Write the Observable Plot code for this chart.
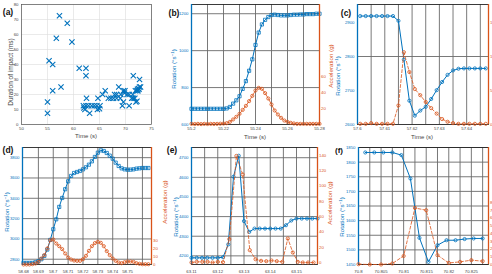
<!DOCTYPE html>
<html>
<head>
<meta charset="utf-8">
<script src="https://cdn.jsdelivr.net/npm/d3@7"></script>
<script src="https://cdn.jsdelivr.net/npm/@observablehq/plot@0.6"></script>
<style>
  body { margin: 0; background: #fff; }
  #fig { position: relative; width: 492px; height: 274px; overflow: hidden; background: #fff;
         font-family: "Liberation Sans", Arial, sans-serif; }
  #fig svg { position: absolute; }
  .t { position: absolute; white-space: nowrap; line-height: 1; }
  .rot { transform: translate(-50%, -50%) rotate(-90deg); }
  .h { transform: translate(-50%, -50%); }
  sup { font-size: 70%; vertical-align: 0.45em; line-height: 0; }
</style>
</head>
<body>
<div id="fig"></div>
<script>
// ---- (a) impact duration over the session ----
const aTime = [55.0, 55.0, 55.3, 56.0, 56.0, 56.7, 57.3, 57.6, 58.8, 59.7, 61.1, 62.4, 62.4, 62.5,
  61.9, 62.4, 62.9, 63.5, 64.0, 64.5, 65.1, 62.2, 64.6, 63.1, 64.7, 65.6, 66.1, 66.7, 67.2, 67.7,
  67.9, 68.3, 68.7, 68.3, 69.6, 69.9, 69.1, 70.3, 70.7, 69.0, 71.2, 69.6, 72.0, 69.4, 70.7, 71.5,
  72.7, 71.5, 71.8, 71.4, 72.2, 71.9, 72.2, 72.4, 72.3, 72.6, 72.7, 72.9, 62.0, 65.0, 69.8, 72.5];
const aDuration = [7.5, 15, 42.5, 40, 22.5, 57.5, 72.5, 25, 67.5, 55, 37.5, 37.5, 32.5, 17.5,
  12.5, 12.5, 12.5, 12.5, 12.5, 12.5, 12.5, 10, 10, 7.5, 17.5, 20, 22.5, 17.5, 17.5, 17.5,
  20, 20, 25, 17.5, 22.5, 22.5, 20, 20, 20, 17.5, 17.5, 15, 15, 12.5, 12.5, 32.5,
  30, 17.5, 17.5, 20, 15.5, 22.5, 22.5, 22.5, 23.5, 23.5, 25, 25, 11, 10.5, 21, 24];
const aXTicks = [50, 55, 60, 65, 70, 75];
const aYTicks = [0, 10, 20, 30, 40, 50, 60, 70, 80];

// ---- (b) ----
const bTime = [55.2, 55.202, 55.204, 55.206, 55.208, 55.21, 55.212, 55.214, 55.216, 55.218, 55.22,
  55.222, 55.224, 55.226, 55.228, 55.23, 55.232, 55.234, 55.236, 55.238, 55.24, 55.242, 55.244,
  55.246, 55.248, 55.25, 55.252, 55.254, 55.256, 55.258, 55.26, 55.262, 55.264, 55.266, 55.268,
  55.27, 55.272, 55.274, 55.276, 55.278, 55.28];
const bRotation = [685, 685, 685, 685, 685, 685, 685, 685, 685, 685, 685,
  687, 695, 713, 731, 753, 793, 835, 891, 953, 1031,
  1098, 1142, 1167, 1182, 1193, 1195, 1193, 1191, 1191, 1191,
  1193, 1195, 1195, 1196, 1196, 1198, 1198, 1198, 1200, 1200];
const bAccel = [0.8, 0.6, 0.8, 0.5, 0.8, 0.6, 0.8, 0.7, 0.8, 1.0, 1.2,
  1.7, 3.3, 6.3, 9.6, 13.3, 18.3, 23.3, 29.2, 35.8, 42.5,
  45.8, 44.6, 39.2, 32.5, 25, 17.5, 12.5, 8.3, 5, 3.3,
  2.1, 1.3, 0.8, 0.8, 0.8, 0.8, 0.8, 0.8, 0.8, 0.8];
const bXTicks = [55.2, 55.22, 55.24, 55.26, 55.28];
const bXGrid = [55.21, 55.22, 55.23, 55.24, 55.25, 55.26, 55.27];
const bYTicks = [600, 800, 1000, 1200];
const bYGrid = [800, 1000, 1200];
const bAccTicks = [20, 40, 60];

// ---- (c) ----
const cTime = [57.601, 57.603, 57.605, 57.607, 57.609, 57.611, 57.613, 57.615, 57.617, 57.619,
  57.621, 57.623, 57.625, 57.627, 57.629, 57.631, 57.633, 57.635, 57.637, 57.639, 57.641,
  57.643, 57.645, 57.647];
const cRotation = [2919, 2919, 2919, 2919, 2919, 2919, 2919, 2905, 2791, 2670, 2626, 2641, 2652,
  2675, 2701, 2725, 2746, 2759, 2764, 2765, 2765, 2765, 2765, 2765];
const cAccel = [0.1, 0.1, 0.2, 0.1, 0.1, 0.1, 0.1, 2.8, 10.6, 7.7, 5.2, 4.3, 3.3, 2.4, 1.6, 0.8,
  0.4, 0.2, 0.1, 0.1, 0.1, 0.1, 0.1, 0.1];
const cXTicks = [57.6, 57.61, 57.62, 57.63, 57.64];
const cXGrid = [57.605, 57.61, 57.615, 57.62, 57.625, 57.63, 57.635, 57.64, 57.645];
const cYTicks = [2600, 2700, 2800, 2900];
const cYGrid = [2800];
const cAccTicks = [0, 5, 10, 15];

// ---- (d) ----
const dTime = [58.68, 58.682, 58.684, 58.686, 58.688, 58.69, 58.692, 58.694, 58.696, 58.698,
  58.7, 58.702, 58.704, 58.706, 58.708, 58.71, 58.712, 58.714, 58.716, 58.718, 58.72, 58.722,
  58.724, 58.726, 58.728, 58.73, 58.732, 58.734, 58.736, 58.738, 58.74, 58.742, 58.744, 58.746,
  58.748, 58.75, 58.752, 58.754, 58.756, 58.758, 58.76, 58.762, 58.764];
const dRotation = [2764, 2764, 2764, 2764, 2770, 2780, 2800, 2833, 2895, 2990,
  3095, 3193, 3315, 3403, 3489, 3567, 3620, 3649, 3659, 3669,
  3685, 3705, 3731, 3764, 3807, 3849, 3872, 3866, 3846, 3820,
  3790, 3751, 3718, 3695, 3685, 3682, 3682, 3685, 3692, 3695,
  3698, 3698, 3698];
const dAccel = [0, 0, 0, 0.4, 1.3, 3.4, 7.7, 12, 20.5, 31.2,
  32, 26.9, 23.5, 19.7, 14.1, 9, 6.4, 5.1, 4.7, 4.7,
  6.8, 11.1, 17.5, 23.5, 27.4, 29.1, 27.8, 23.5, 17.1, 12,
  7.7, 4.7, 2.6, 1.7, 3, 3.8, 3.8, 3.4, 1.7, 0.9,
  0.4, 0.4, 0.4];
const dXTicks = [58.68, 58.69, 58.7, 58.71, 58.72, 58.73, 58.74, 58.75];
const dXGrid = [58.69, 58.7, 58.71, 58.72, 58.73, 58.74, 58.75, 58.76];
const dYTicks = [2800, 3000, 3200, 3400, 3600, 3800];
const dAccTicks = [0, 10, 20, 30];

// ---- (e) ----
const eTime = [63.11, 63.112, 63.114, 63.116, 63.118, 63.12, 63.122, 63.124, 63.126, 63.128,
  63.13, 63.132, 63.134, 63.136, 63.138, 63.14, 63.142, 63.144, 63.146, 63.148, 63.15, 63.152,
  63.154, 63.156, 63.158];
const eRotation = [4190, 4190, 4190, 4190, 4190, 4190, 4193, 4258, 4603, 4710, 4377, 4322,
  4339, 4339, 4339, 4339, 4339, 4339, 4356, 4380, 4390, 4390, 4390, 4390, 4390];
const eAccTime = [63.11, 63.112, 63.1141, 63.1161, 63.118, 63.12, 63.122, 63.1244, 63.1271,
  63.1295, 63.1322, 63.1344, 63.1365, 63.1385, 63.1405, 63.1425, 63.1446, 63.1467, 63.1486,
  63.1505, 63.1524, 63.1544, 63.1565];
const eAccel = [0, 0.9, 0.9, 0.9, 0, 0.9, 0.4, 30.4, 139, 114.8, 16.1, 4.3, 2.2, 1.7, 2.6, 1.7,
  0.9, 31.3, 13, 0.9, 0, 0, 0];
const eXTicks = [63.11, 63.12, 63.13, 63.14, 63.15];
const eXGrid = [63.115, 63.12, 63.125, 63.13, 63.135, 63.14, 63.145, 63.15, 63.155];
const eYTicks = [4200, 4300, 4400, 4500, 4600, 4700];
const eAccTicks = [0, 20, 40, 60, 80, 100, 120, 140];

// ---- (f) ----
const fTime = [70.8015, 70.8035, 70.8055, 70.8075, 70.8095, 70.8115, 70.8135, 70.8155, 70.8175,
  70.8195, 70.8215, 70.8235, 70.8255, 70.8275];
const fRotation = [1833, 1833, 1833, 1833, 1824, 1744, 1541, 1459, 1516, 1533, 1533, 1537, 1539, 1539];
const fAccTime = [70.8, 70.8025, 70.805, 70.8075, 70.81, 70.8125, 70.815, 70.8175, 70.82,
  70.8225, 70.825, 70.8275];
const fAccel = [0.04, 0, 0, 0.13, 1.1, 7.3, 7.0, 1.2, 0.2, 0.34, 0.56, 0.43];
const fXTicks = [70.8, 70.805, 70.81, 70.815, 70.82, 70.825];
const fXGrid = [70.8025, 70.805, 70.8075, 70.81, 70.8125, 70.815, 70.8175, 70.82, 70.8225, 70.825, 70.8275];
const fYTicks = [1450, 1500, 1550, 1600, 1650, 1700, 1750, 1800, 1850];
const fAccTicks = [0, 1, 2, 3, 4, 5, 6, 7, 8];

// ---- drawing ----
const BLUE = "#0072BD", ORANGE = "#D95319", GRID = "#6a6a6a", INK = "#333";
const FONT = "'Liberation Sans', Arial, sans-serif";
const fig = document.getElementById("fig");
const rowsOf = (xs, ys) => xs.map((x, i) => ({x, y: ys[i]}));

function place(svg, left, top) {
  svg.style.left = left + "px";
  svg.style.top = top + "px";
  fig.appendChild(svg);
}

function text(html, cx, cy, {size = 6, color = INK, rotate = false, weight = "normal"} = {}) {
  const el = document.createElement("div");
  el.className = "t " + (rotate ? "rot" : "h");
  el.style.left = cx + "px";
  el.style.top = cy + "px";
  el.style.fontSize = size + "px";
  el.style.color = color;
  el.style.fontWeight = weight;
  el.innerHTML = html;
  fig.appendChild(el);
}

// (a) scatter
{
  const svg = Plot.plot({
    width: 160, height: 140, marginLeft: 21, marginRight: 9, marginTop: 4, marginBottom: 16,
    style: {fontSize: "4.3px", fontFamily: FONT, background: "white", overflow: "visible"},
    x: {domain: [50, 75]},
    y: {domain: [0, 80]},
    marks: [
      Plot.gridX(aXTicks, {stroke: "#dcdcdc", strokeOpacity: 1, strokeWidth: 0.6}),
      Plot.gridY(aYTicks, {stroke: "#dcdcdc", strokeOpacity: 1, strokeWidth: 0.6}),
      Plot.frame({stroke: "#555", strokeWidth: 0.7}),
      Plot.axisX(aXTicks, {tickSize: 0, tickPadding: 2, tickFormat: String, color: "#444", label: null}),
      Plot.axisY(aYTicks, {tickSize: 0, tickPadding: 3, tickFormat: String, color: "#444", label: null}),
      Plot.dot(rowsOf(aTime, aDuration), {x: "x", y: "y", symbol: "times", r: 2.5, stroke: BLUE, strokeWidth: 1.1})
    ]
  });
  place(svg, 0, 0);
}

// dual-axis panels: rotation on the left axis, acceleration on the right axis
function dualPanel(p) {
  const [left, top, width, height] = p.box;
  const [mt, mr, mb, ml] = p.m;
  const dims = {width, height, marginTop: mt, marginRight: mr, marginBottom: mb, marginLeft: ml};
  const rot = rowsOf(p.time, p.rot);
  const acc = rowsOf(p.accTime, p.acc);
  const base = Plot.plot({
    ...dims,
    style: {fontSize: "4.3px", fontFamily: FONT, background: "white", overflow: "visible"},
    x: {domain: p.xDomain},
    y: {domain: p.yDomain},
    marks: [
      Plot.gridX(p.xGrid, {stroke: GRID, strokeOpacity: 1, strokeWidth: 0.9}),
      Plot.gridY(p.yGrid, {stroke: GRID, strokeOpacity: 1, strokeWidth: 0.9}),
      Plot.frame({stroke: "#262626", strokeWidth: 0.9}),
      Plot.ruleX([p.xDomain[0]], {stroke: BLUE, strokeWidth: 1.3}),
      Plot.axisX(p.xTicks, {tickSize: 0, tickPadding: p.xPad, tickFormat: String, color: "#444", label: null}),
      Plot.axisY(p.yTicks, {tickSize: 0, tickPadding: 3, tickFormat: String, color: BLUE, label: null}),
      Plot.line(rot, {x: "x", y: "y", stroke: BLUE, strokeWidth: 1}),
      Plot.dot(rot, {x: "x", y: "y", symbol: p.symbol, r: p.symbol === "square" ? 1.8 : 1.6,
        stroke: BLUE, fill: "none", strokeWidth: 0.8})
    ]
  });
  place(base, left, top);
  const over = Plot.plot({
    ...dims,
    style: {fontSize: "4.3px", fontFamily: FONT, background: "none", overflow: "visible"},
    x: {domain: p.xDomain, axis: null},
    y: {domain: p.accDomain},
    marks: [
      Plot.ruleX([p.xDomain[1]], {stroke: ORANGE, strokeWidth: 1.3}),
      Plot.axisY(p.accTicks, {anchor: "right", tickSize: 0, tickPadding: 1.5, tickFormat: String, color: ORANGE, label: null}),
      Plot.line(acc, {x: "x", y: "y", stroke: ORANGE, strokeWidth: 0.8, strokeDasharray: p.dash}),
      Plot.dot(acc, {x: "x", y: "y", symbol: "circle", r: 1.6, stroke: ORANGE, fill: "none", strokeWidth: 0.8})
    ]
  });
  place(over, left, top);
}

dualPanel({box: [160, 0, 170, 140], m: [4, 11, 16, 31], xDomain: [55.2, 55.28], yDomain: [600, 1250],
  accDomain: [0, 150], xTicks: bXTicks, xGrid: bXGrid, yTicks: bYTicks, yGrid: bYGrid, accTicks: bAccTicks,
  time: bTime, rot: bRotation, accTime: bTime, acc: bAccel, symbol: "square", dash: null, xPad: 2});

dualPanel({box: [330, 0, 162, 140], m: [4, 4, 16, 27], xDomain: [57.6, 57.648], yDomain: [2600, 2953],
  accDomain: [0, 17.6], xTicks: cXTicks, xGrid: cXGrid, yTicks: cYTicks, yGrid: cYGrid, accTicks: cAccTicks,
  time: cTime, rot: cRotation, accTime: cTime, acc: cAccel, symbol: "circle", dash: "3,2", xPad: 2});

dualPanel({box: [0, 140, 160, 134], m: [7, 9, 10, 22], xDomain: [58.6793, 58.7661], yDomain: [2748, 3900],
  accDomain: [0, 150], xTicks: dXTicks, xGrid: dXGrid, yTicks: dYTicks, yGrid: dYTicks, accTicks: dAccTicks,
  time: dTime, rot: dRotation, accTime: dTime, acc: dAccel, symbol: "square", dash: "1.5,1.2", xPad: 5});

dualPanel({box: [160, 140, 170, 134], m: [7, 13, 10, 31], xDomain: [63.11, 63.158], yDomain: [4156, 4752],
  accDomain: [-2.6, 150], xTicks: eXTicks, xGrid: eXGrid, yTicks: eYTicks, yGrid: eYTicks, accTicks: eAccTicks,
  time: eTime, rot: eRotation, accTime: eAccTime, acc: eAccel, symbol: "circle", dash: "3,2", xPad: 5});

dualPanel({box: [330, 140, 162, 134], m: [7, 4, 10, 28], xDomain: [70.8, 70.8288], yDomain: [1450, 1850],
  accDomain: [0, 15.1], xTicks: fXTicks, xGrid: fXGrid, yTicks: fYTicks, yGrid: fYTicks, accTicks: fAccTicks,
  time: fTime, rot: fRotation, accTime: fAccTime, acc: fAccel, symbol: "circle", dash: "3,2", xPad: 5});

// panel letters and axis titles
const ROT = "Rotation (°s<sup>−1</sup>)";
const ACC = "Acceleration (g)";
text("(a)", 8, 12, {size: 8.5, color: "#111", weight: "bold"});
text("(b)", 174, 13, {size: 8.5, color: "#111", weight: "bold"});
text("(c)", 346, 13, {size: 8.5, color: "#111", weight: "bold"});
text("(d)", 8, 150, {size: 8.5, color: "#111", weight: "bold"});
text("(e)", 172, 150, {size: 8.5, color: "#111", weight: "bold"});
text("(f)", 339, 151, {size: 8, color: "#111", weight: "bold"});

text("Duration of impact (ms)", 11, 72, {size: 6.5, rotate: true, color: "#444"});
text("Time (s)", 86, 136, {size: 6, color: "#444"});
text(ROT, 174, 69, {size: 6.2, rotate: true, color: BLUE});
text("Time (s)", 255, 137, {size: 6, color: "#444"});
text(ACC, 331, 66, {size: 6.2, rotate: true, color: ORANGE});
text(ROT, 338, 76, {size: 6.2, rotate: true, color: BLUE});
text("Time (s)", 422, 137, {size: 6, color: "#444"});
text(ROT, 7, 212, {size: 6.2, rotate: true, color: BLUE});
text(ACC, 165, 202, {size: 6.2, rotate: true, color: ORANGE});
text(ROT, 176, 217, {size: 6.2, rotate: true, color: BLUE});
text(ACC, 330, 203, {size: 6.2, rotate: true, color: ORANGE});
text(ROT, 342, 217, {size: 6.2, rotate: true, color: BLUE});
</script>
</body>
</html>
